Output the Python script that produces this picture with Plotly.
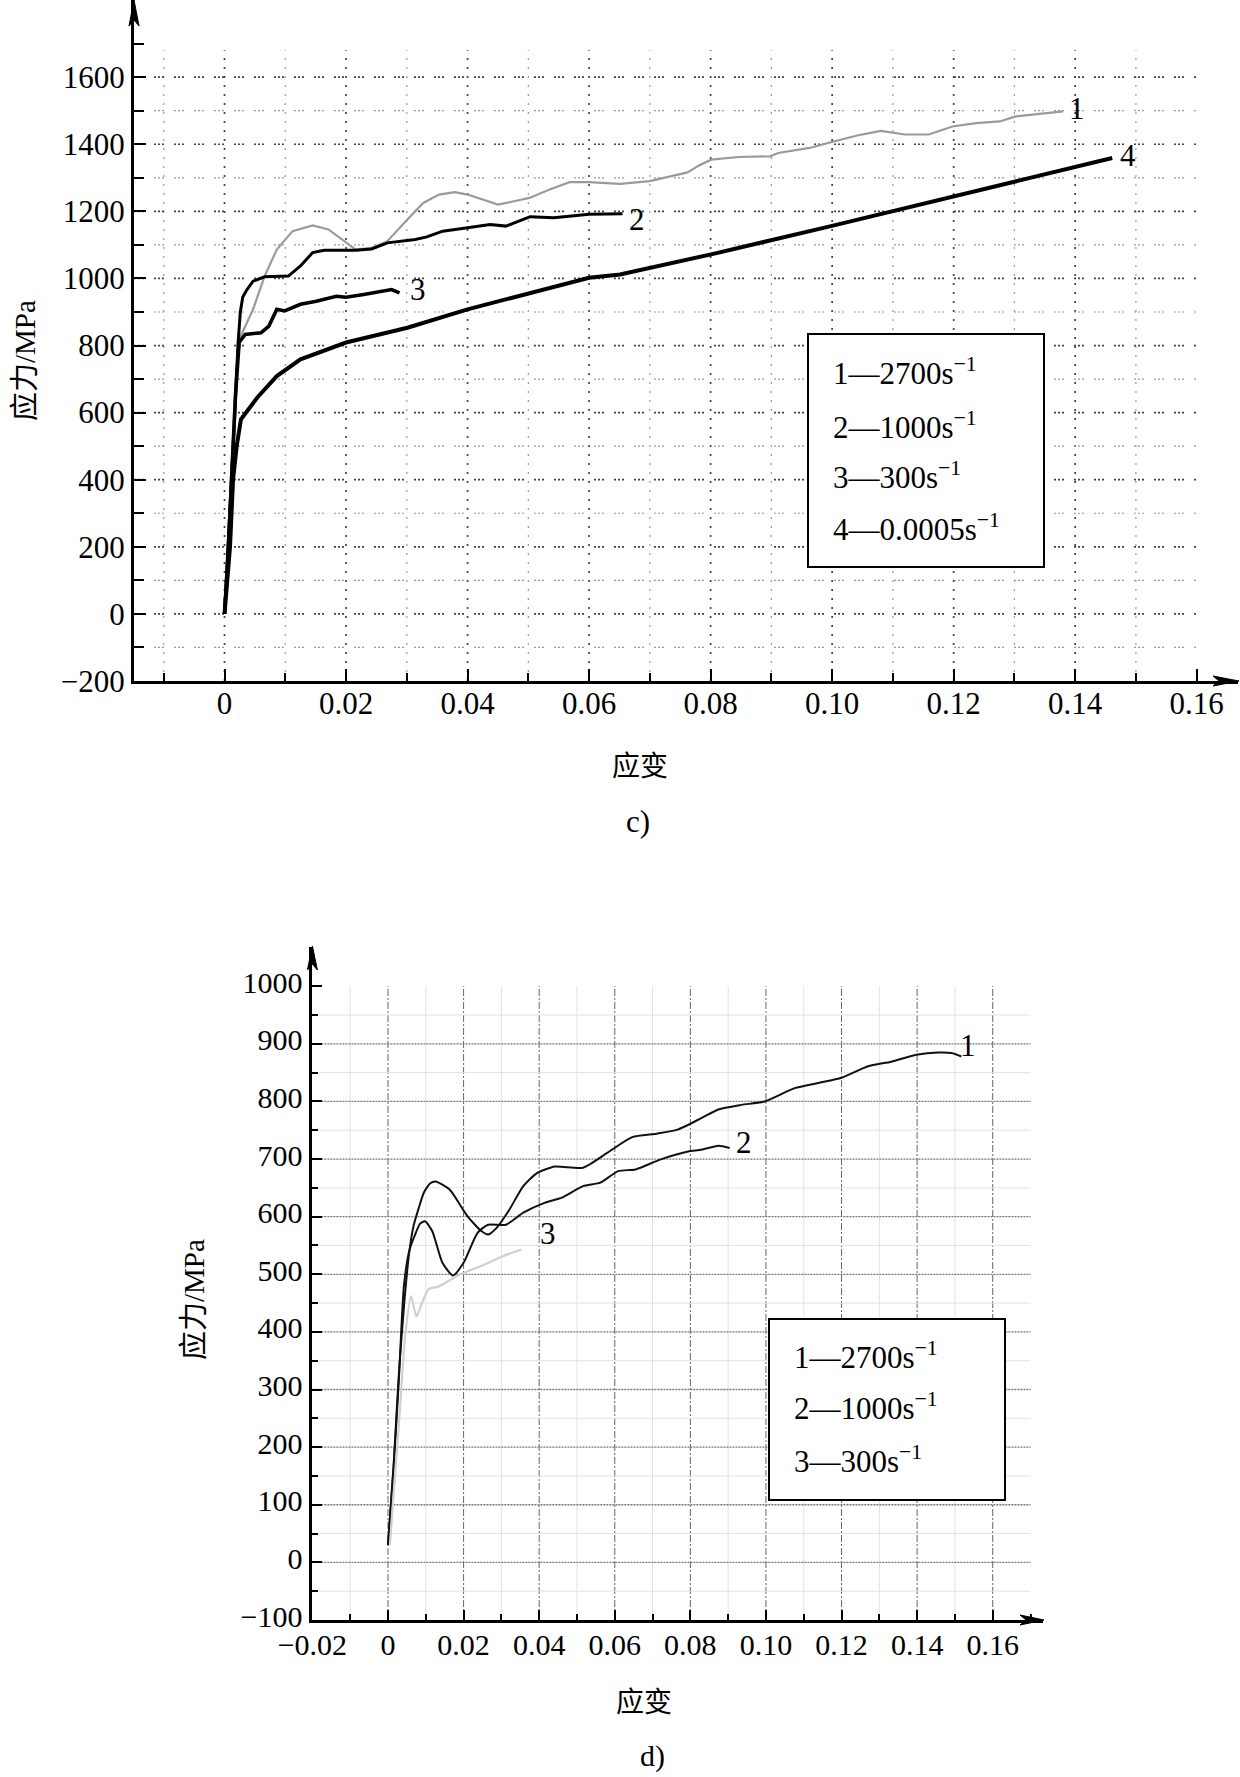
import plotly.graph_objects as go

# ---------------- data: panel c) ----------------
c_rates = ["2700", "1000", "300", "0.0005"]
c_ids = ["1", "2", "3", "4"]

c1_strain = [0, 0.0007, 0.0013, 0.0019, 0.0027, 0.0047, 0.0066, 0.0086, 0.0112, 0.0145, 0.0171, 0.0200,
             0.0216, 0.0242, 0.0268, 0.0301, 0.0327, 0.0353, 0.0379, 0.0400, 0.0424, 0.0450, 0.0476, 0.0502,
             0.0535, 0.0568, 0.0600, 0.0651, 0.0700, 0.0762, 0.0781, 0.0801, 0.0846, 0.0898, 0.0911, 0.0963,
             0.0998, 0.1041, 0.1080, 0.1120, 0.1159, 0.1198, 0.1237, 0.1276, 0.1302, 0.1354, 0.1380]
c1_stress = [0, 250, 500, 720, 830, 908, 1007, 1086, 1141, 1158, 1146, 1106,
             1086, 1091, 1111, 1176, 1225, 1250, 1257, 1250, 1235, 1220, 1230, 1240,
             1265, 1287, 1287, 1282, 1290, 1316, 1337, 1354, 1362, 1364, 1374, 1389,
             1406, 1426, 1440, 1429, 1429, 1453, 1463, 1468, 1483, 1493, 1498]

c2_strain = [0, 0.0006, 0.0012, 0.0017, 0.0022, 0.0026, 0.0030, 0.0037, 0.0047, 0.0066, 0.0105, 0.0125,
             0.0145, 0.0164, 0.0216, 0.0242, 0.0268, 0.0314, 0.0333, 0.0359, 0.0400, 0.0437, 0.0463,
             0.0483, 0.0503, 0.0542, 0.0600, 0.0655]
c2_stress = [0, 200, 420, 600, 800, 900, 945, 967, 992, 1005, 1007, 1037,
             1077, 1084, 1084, 1088, 1106, 1116, 1124, 1141, 1151, 1161, 1156,
             1171, 1184, 1181, 1191, 1193]

c3_strain = [0, 0.0006, 0.0012, 0.0018, 0.0024, 0.0034, 0.0060, 0.0073, 0.0086, 0.0099, 0.0125,
             0.0151, 0.0184, 0.0200, 0.0229, 0.0255, 0.0275, 0.0288]
c3_stress = [0, 180, 420, 650, 809, 833, 838, 858, 908, 903, 923,
             932, 947, 944, 952, 959, 967, 957]

c4_strain = [0, 0.0005, 0.0009, 0.0014, 0.0020, 0.0027, 0.0047, 0.0054, 0.0086, 0.0125, 0.0200,
             0.0301, 0.0400, 0.0501, 0.0600, 0.0651, 0.0799, 0.0998, 0.1198, 0.1399, 0.1461]
c4_stress = [0, 100, 200, 400, 500, 580, 625, 645, 709, 759, 809,
             853, 908, 957, 1002, 1012, 1071, 1156, 1245, 1334, 1359]

c_xtick_vals = [0, 0.02, 0.04, 0.06, 0.08, 0.10, 0.12, 0.14, 0.16]
c_xtick_text = ["0", "0.02", "0.04", "0.06", "0.08", "0.10", "0.12", "0.14", "0.16"]
c_ytick_vals = [-200, 0, 200, 400, 600, 800, 1000, 1200, 1400, 1600]

# ---------------- data: panel d) ----------------
d_rates = ["2700", "1000", "300"]
d_ids = ["1", "2", "3"]

d1_strain = [0, 0.0015, 0.0029, 0.0043, 0.0056, 0.0068, 0.0080, 0.0095, 0.0112, 0.0126, 0.0163, 0.0210,
             0.0247, 0.0265, 0.0288, 0.0321, 0.0358, 0.0395, 0.0442, 0.0516, 0.0581, 0.0646, 0.0711,
             0.0766, 0.0829, 0.0874, 0.0935, 0.0997, 0.1076, 0.1138, 0.1200, 0.1270, 0.1332, 0.1398,
             0.1456, 0.1491, 0.1517]
d1_stress = [30, 170, 330, 450, 537, 585, 612, 642, 658, 661, 647, 601,
             575, 569, 581, 612, 653, 676, 687, 685, 711, 738, 744,
             751, 771, 786, 794, 800, 823, 832, 841, 861, 869, 881,
             885, 884, 878]

d2_strain = [0, 0.0015, 0.0029, 0.0042, 0.0056, 0.0070, 0.0085, 0.0098, 0.0117, 0.0144, 0.0172, 0.0200,
             0.0237, 0.0265, 0.0312, 0.0358, 0.0414, 0.0460, 0.0516, 0.0562, 0.0609, 0.0655, 0.0720,
             0.0794, 0.0829, 0.0874, 0.0904]
d2_stress = [30, 165, 320, 479, 540, 566, 588, 592, 575, 520, 498, 520,
             572, 586, 586, 607, 624, 633, 653, 659, 679, 682, 699,
             713, 716, 723, 719]

d3_strain = [0.0005, 0.0015, 0.0030, 0.0045, 0.0061, 0.0075, 0.0090, 0.0107, 0.0135, 0.0182, 0.0210,
             0.0256, 0.0302, 0.0353]
d3_stress = [30, 120, 250, 390, 462, 427, 450, 474, 479, 497, 505,
             517, 531, 543]

d_xtick_vals = [-0.02, 0, 0.02, 0.04, 0.06, 0.08, 0.10, 0.12, 0.14, 0.16]
d_xtick_text = ["\u22120.02", "0", "0.02", "0.04", "0.06", "0.08", "0.10", "0.12", "0.14", "0.16"]
d_ytick_vals = [-100, 0, 100, 200, 300, 400, 500, 600, 700, 800, 900, 1000]

# ---------------- layout helpers ----------------
W, H = 1240, 1777
SERIF = "Liberation Serif"
CJK = "Noto Sans CJK SC"
FS = 31
FS_D = 30


def px(x):
    return x / W


def py(y):
    return 1 - y / H


def cjk(s):
    return f"<span style='font-family:{CJK}'>{s}</span>"


# panel geometry (pixels)
C_L, C_R, C_T, C_B = 134, 1238, 0, 681
D_L, D_R, D_T, D_B = 312.4, 1043, 947, 1620
C_XR = [-0.0149, 0.1668]
C_YR = [-200, 1830]
D_XR = [-0.02, 0.1733]
D_YR = [-100, 1068]

fig = go.Figure()

c_series = [(c1_strain, c1_stress), (c2_strain, c2_stress), (c3_strain, c3_stress), (c4_strain, c4_stress)]
c_styles = [dict(color="#9a9a9a", width=2.2), dict(color="black", width=3),
            dict(color="black", width=3.6), dict(color="black", width=4)]
c_label_shift = [(14, 3), (14, -6), (18, 3), (16, 3)]
for (xs, ys), st, lid, rate, sh in zip(c_series, c_styles, c_ids, c_rates, c_label_shift):
    fig.add_trace(go.Scatter(x=xs, y=ys, mode="lines", line=st, name=lid + "\u2014" + rate,
                             xaxis="x", yaxis="y", showlegend=False))
    fig.add_annotation(x=xs[-1], y=ys[-1], xref="x", yref="y", text=lid, showarrow=False,
                       xshift=sh[0], yshift=sh[1], font=dict(family=SERIF, size=FS, color="black"))

d_series = [(d1_strain, d1_stress), (d2_strain, d2_stress), (d3_strain, d3_stress)]
d_styles = [dict(color="#111", width=2), dict(color="#111", width=2), dict(color="#d0d0d0", width=2.2)]
d_label_shift = [(7, 11), (14, 6), (27, 16)]
for (xs, ys), st, lid, rate, sh in zip(d_series, d_styles, d_ids, d_rates, d_label_shift):
    fig.add_trace(go.Scatter(x=xs, y=ys, mode="lines", line=dict(shape="spline", smoothing=0.6, **st),
                             name=lid + "\u2014" + rate, xaxis="x2", yaxis="y2", showlegend=False))
    fig.add_annotation(x=xs[-1], y=ys[-1], xref="x2", yref="y2", text=lid, showarrow=False,
                       xshift=sh[0], yshift=sh[1], font=dict(family=SERIF, size=FS, color="black"))

shapes = []

# ---- grid, panel c ----
for i in range(17):
    gx = round(-0.01 + 0.01 * i, 3)
    major = (i % 2 == 1)
    shapes.append(dict(type="line", xref="x", yref="y", x0=gx, x1=gx, y0=-200, y1=1680, layer="below",
                       line=dict(color="#444" if major else "#999", width=1.7 if major else 1.2,
                                 dash="2px,7px")))
for j in range(18):
    gy = -100 + 100 * j
    major = (gy % 200 == 0)
    shapes.append(dict(type="line", xref="x", yref="y", x0=C_XR[0], x1=0.16, y0=gy, y1=gy, layer="below",
                       line=dict(color="#444" if major else "#999", width=1.7 if major else 1.2,
                                 dash="2px,2px,2px,2px,2px,10px")))

# ---- grid, panel d ----
for i in range(18):
    gx = round(-0.01 + 0.01 * i, 3)
    major = (i % 2 == 1)
    if major:
        ln = dict(color="#666", width=1, dash="7px,2px,2px,2px")
    else:
        ln = dict(color="#e2e2e2", width=1)
    shapes.append(dict(type="line", xref="x2", yref="y2", x0=gx, x1=gx, y0=-100, y1=1000, layer="below",
                       line=ln))
for j in range(21):
    gy = -50 + 50 * j
    major = (gy % 100 == 0)
    if major:
        ln = dict(color="#777", width=1.3, dash="2px,1px")
    else:
        ln = dict(color="#e2e2e2", width=1)
    shapes.append(dict(type="line", xref="x2", yref="y2", x0=-0.02, x1=0.17, y0=gy, y1=gy, layer="below",
                       line=ln))


# ---- axis arrowheads ----
def arrow_up(xp, ytip, length, half, notch):
    return dict(type="path", xref="paper", yref="paper", layer="above",
                path=f"M{px(xp)},{py(ytip)} L{px(xp - half)},{py(ytip + length)} "
                     f"L{px(xp)},{py(ytip + length - notch)} L{px(xp + half)},{py(ytip + length)} Z",
                fillcolor="black", line=dict(color="black", width=1))


def arrow_right(xtip, yp, length, half, notch):
    return dict(type="path", xref="paper", yref="paper", layer="above",
                path=f"M{px(xtip)},{py(yp)} L{px(xtip - length)},{py(yp - half)} "
                     f"L{px(xtip - length + notch)},{py(yp)} L{px(xtip - length)},{py(yp + half)} Z",
                fillcolor="black", line=dict(color="black", width=1))


shapes.append(arrow_up(C_L, C_T, 26, 5, 6))
shapes.append(arrow_right(C_R + 1, C_B, 26, 5, 6))
shapes.append(arrow_up(D_L, D_T - 1, 24, 5, 6))
shapes.append(arrow_right(D_R + 1, D_B, 24, 5, 6))

# ---- legend boxes ----
shapes.append(dict(type="rect", xref="paper", yref="paper", x0=px(808), x1=px(1044), y0=py(334), y1=py(567),
                   fillcolor="white", line=dict(color="black", width=2), layer="above"))
shapes.append(dict(type="rect", xref="paper", yref="paper", x0=px(769), x1=px(1005), y0=py(1319), y1=py(1500),
                   fillcolor="white", line=dict(color="black", width=2), layer="above"))

fig.update_layout(shapes=shapes)

c_leg_y = [371, 425, 475, 527]
for lid, rate, yy in zip(c_ids, c_rates, c_leg_y):
    fig.add_annotation(x=px(831), y=py(yy), xref="paper", yref="paper", xanchor="left", yanchor="middle",
                       text=f"{lid}\u2014{rate}s<sup>\u22121</sup>", showarrow=False,
                       font=dict(family=SERIF, size=FS, color="black"))
d_leg_y = [1355, 1406, 1459]
for lid, rate, yy in zip(d_ids, d_rates, d_leg_y):
    fig.add_annotation(x=px(792), y=py(yy), xref="paper", yref="paper", xanchor="left", yanchor="middle",
                       text=f"{lid}\u2014{rate}s<sup>\u22121</sup>", showarrow=False,
                       font=dict(family=SERIF, size=FS, color="black"))

# ---- titles ----
titles = [
    (cjk("应力") + "/MPa", 22, 361, -90, 29),
    (cjk("应变"), 640, 764, 0, 28),
    ("c)", 638, 821, 0, FS),
    (cjk("应力") + "/MPa", 191, 1300, -90, 29),
    (cjk("应变"), 644, 1700, 0, 28),
    ("d)", 652, 1756, 0, 30),
]
for t, x, y, ang, fs in titles:
    fig.add_annotation(x=px(x), y=py(y), xref="paper", yref="paper", xanchor="center", yanchor="middle",
                       text=t, textangle=ang, showarrow=False, font=dict(family=SERIF, size=fs, color="black"))

axis_common = dict(showgrid=False, zeroline=False, showline=True, linecolor="black", linewidth=3,
                   ticks="inside", tickcolor="black", tickwidth=2, automargin=False)
tf_c = dict(family=SERIF, size=FS, color="black")
tf_d = dict(family=SERIF, size=FS_D, color="black")

fig.update_layout(
    template="none",
    width=W, height=H, autosize=False,
    margin=dict(l=0, r=0, t=0, b=0, autoexpand=False),
    paper_bgcolor="white", plot_bgcolor="white",
    font=dict(family=SERIF, size=FS, color="black"),
    xaxis=dict(domain=[px(C_L), px(C_R)], range=C_XR, anchor="y", tickmode="array",
               tickvals=c_xtick_vals, ticktext=c_xtick_text, ticklen=12, tickfont=tf_c,
               minor=dict(tickmode="array", tickvals=[-0.01, 0.01, 0.03, 0.05, 0.07, 0.09, 0.11, 0.13, 0.15],
                          ticks="inside", ticklen=8, tickwidth=2, tickcolor="black", showgrid=False),
               ticklabelstandoff=-7, **axis_common),
    yaxis=dict(domain=[py(C_B), py(C_T)], range=C_YR, anchor="x", tickmode="array",
               tickvals=c_ytick_vals, ticklen=12, tickfont=tf_c,
               minor=dict(tickmode="array", tickvals=[-100, 100, 300, 500, 700, 900, 1100, 1300, 1500, 1700],
                          ticks="inside", ticklen=10, tickwidth=2, tickcolor="black", showgrid=False),
               ticklabelstandoff=0, **axis_common),
    xaxis2=dict(domain=[px(D_L), px(D_R)], range=D_XR, anchor="y2", tickmode="array",
                tickvals=d_xtick_vals, ticktext=d_xtick_text, ticklen=10, tickfont=tf_d,
                minor=dict(tickmode="array", tickvals=[-0.01, 0.01, 0.03, 0.05, 0.07, 0.09, 0.11, 0.13, 0.15, 0.17],
                           ticks="inside", ticklen=6, tickwidth=2, tickcolor="black", showgrid=False),
                ticklabelstandoff=-4, **axis_common),
    yaxis2=dict(domain=[py(D_B), py(D_T)], range=D_YR, anchor="x2", tickmode="array",
                tickvals=d_ytick_vals, ticklen=10, tickfont=tf_d,
                minor=dict(tickmode="array", tickvals=[-50, 50, 150, 250, 350, 450, 550, 650, 750, 850, 950],
                           ticks="inside", ticklen=6, tickwidth=2, tickcolor="black", showgrid=False),
                ticklabelstandoff=1, ticklabelshift=-4, **axis_common),
)

fig.write_html("out.html")
